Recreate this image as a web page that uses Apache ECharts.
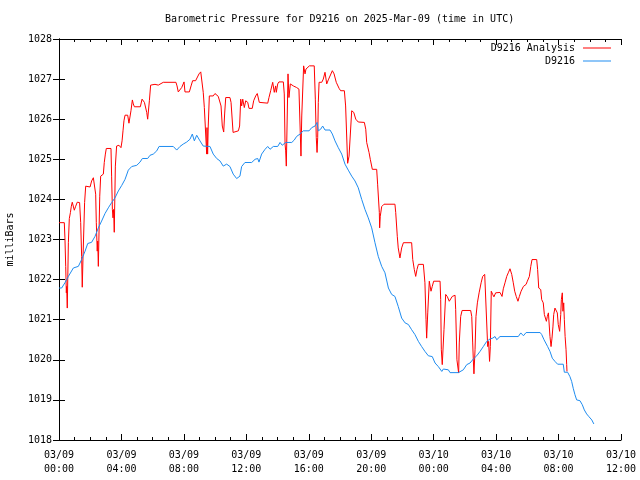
<!DOCTYPE html>
<html>
<head>
<meta charset="utf-8">
<script src="https://cdn.jsdelivr.net/npm/echarts@6/dist/echarts.min.js"></script>
<style>html,body{margin:0;padding:0;background:#fff}#c{width:640px;height:480px}</style>
</head>
<body>
<div id="c"></div>
<script>
// hours since 2025-03-09 00:00 UTC
var analysisHours = [0,0.34,0.38,0.43,0.47,0.49,0.53,0.6,0.66,0.73,0.79,0.85,0.98,1.07,1.17,1.32,1.39,1.45,1.49,1.54,1.64,1.71,1.99,2.09,2.2,2.31,2.35,2.39,2.45,2.48,2.52,2.61,2.67,2.84,2.9,2.97,3.03,3.33,3.37,3.42,3.46,3.5,3.54,3.61,3.65,3.69,3.84,3.97,4.04,4.1,4.16,4.23,4.4,4.48,4.61,4.7,4.76,4.83,5.21,5.32,5.47,5.62,5.68,5.79,5.87,6.15,6.36,6.68,7.49,7.56,7.64,7.75,7.86,8.01,8.07,8.35,8.46,8.56,8.75,8.82,8.97,9.08,9.14,9.24,9.31,9.37,9.46,9.48,9.52,9.56,9.63,9.88,9.99,10.2,10.31,10.38,10.46,10.55,10.61,10.68,10.95,11.02,11.15,11.23,11.49,11.57,11.64,11.7,11.77,11.87,11.96,12.09,12.17,12.38,12.47,12.6,12.7,12.83,13.37,13.45,13.56,13.69,13.79,13.88,13.92,14.01,14.09,14.37,14.43,14.48,14.52,14.56,14.67,14.73,14.82,15.01,15.22,15.37,15.5,15.55,15.67,15.76,15.82,16.04,16.35,16.42,16.48,16.53,16.57,16.61,16.66,16.83,16.93,17.04,17.15,17.25,17.36,17.51,17.62,17.76,17.94,18.04,18.28,18.36,18.49,18.58,18.75,18.88,19.01,19.17,19.56,19.65,19.71,19.86,19.94,20.07,20.35,20.41,20.52,20.54,20.58,20.67,20.82,21.52,21.57,21.67,21.73,21.84,21.95,22.06,22.59,22.66,22.76,22.85,22.93,23.02,23.34,23.44,23.51,23.55,23.62,23.72,23.83,23.91,24.0,24.41,24.45,24.49,24.55,24.66,24.77,24.87,25.0,25.19,25.37,25.41,25.49,25.56,25.6,25.64,25.73,25.82,26.37,26.44,26.5,26.54,26.58,26.65,26.71,26.8,26.91,27.04,27.14,27.27,27.33,27.46,27.52,27.58,27.63,27.69,27.78,27.86,27.97,28.07,28.25,28.38,28.46,28.57,28.68,28.78,28.89,29.0,29.1,29.19,29.29,29.4,29.49,29.6,29.75,29.92,30.0,30.13,30.22,30.3,30.6,30.66,30.73,30.86,30.92,31.02,31.09,31.22,31.28,31.35,31.39,31.45,31.52,31.58,31.64,31.69,31.77,31.86,31.92,31.98,32.07,32.14,32.18,32.24,32.28,32.33,32.37,32.42,32.48,32.52,32.54];
var analysisValues = [1023.42,1023.42,1023.04,1022.33,1021.67,1021.83,1021.29,1022.92,1023.52,1023.67,1023.83,1023.93,1023.73,1023.83,1023.93,1023.92,1023.42,1022.58,1021.81,1022.58,1023.92,1024.33,1024.31,1024.46,1024.54,1024.5,1024.13,1023.42,1022.71,1022.96,1022.33,1024.08,1024.58,1024.63,1024.92,1025.13,1025.27,1025.27,1024.58,1023.75,1023.54,1023.75,1023.18,1024.83,1024.79,1025.33,1025.35,1025.29,1025.46,1025.71,1025.96,1026.1,1026.1,1025.9,1026.21,1026.48,1026.38,1026.31,1026.31,1026.5,1026.42,1026.17,1026,1026.46,1026.85,1026.87,1026.85,1026.92,1026.92,1026.83,1026.68,1026.68,1026.79,1026.93,1026.68,1026.68,1026.83,1026.96,1026.96,1026.93,1027.13,1027.18,1027.15,1026.67,1026.29,1025.83,1025.13,1025.79,1025.13,1025.83,1026.58,1026.58,1026.64,1026.57,1026.57,1026.33,1025.83,1025.68,1026.13,1026.54,1026.54,1026.42,1025.67,1025.71,1025.71,1025.83,1026.5,1026.33,1026.5,1026.29,1026.46,1026.42,1026.27,1026.27,1026.46,1026.58,1026.64,1026.42,1026.4,1026.54,1026.71,1026.92,1026.67,1026.83,1026.67,1026.88,1026.93,1026.93,1026.63,1025.38,1025.21,1024.83,1027.13,1026.54,1026.88,1026.83,1026.79,1026.75,1025.08,1026.08,1027.33,1027.13,1027.25,1027.33,1027.33,1026.5,1025.54,1025.17,1025.54,1026.42,1026.92,1026.92,1027,1027.17,1026.88,1026.98,1027,1027.21,1027.13,1026.92,1026.77,1026.71,1026.71,1026.33,1024.9,1025.08,1026.21,1026.17,1026,1025.93,1025.92,1025.75,1025.42,1025.17,1025,1024.75,1024.75,1024.38,1023.67,1023.29,1023.58,1023.82,1023.88,1023.88,1023.67,1023.08,1022.79,1022.54,1022.79,1022.92,1022.92,1022.5,1022.25,1022.08,1022.25,1022.38,1022.38,1021.92,1021,1020.54,1021.17,1021.96,1021.71,1021.83,1021.96,1021.96,1021.5,1020.25,1019.88,1020.75,1021.63,1021.58,1021.46,1021.58,1021.61,1021.25,1020,1019.96,1019.67,1020.42,1021.08,1021.23,1021.23,1021.08,1020.42,1020,1019.65,1020.25,1021.08,1021.42,1021.67,1021.92,1022.08,1022.13,1022.13,1020.33,1020.46,1019.96,1020.33,1021.71,1021.63,1021.57,1021.67,1021.71,1021.68,1021.58,1021.77,1021.92,1022.08,1022.17,1022.27,1022.13,1021.92,1021.71,1021.58,1021.46,1021.58,1021.71,1021.83,1021.88,1021.96,1022.08,1022.33,1022.5,1022.5,1022.25,1021.79,1021.75,1021.5,1021.42,1021.13,1020.96,1021.08,1021.17,1021.21,1020.58,1020.33,1020.54,1020.82,1021.13,1021.29,1021.27,1021.17,1020.88,1020.71,1021.13,1021.5,1021.67,1021.21,1021.42,1021,1020.58,1020.25,1019.88,1019.71];

var stationHours = [0,0.17,0.38,0.6,0.92,1.24,1.45,1.67,1.84,2.09,2.31,2.52,2.73,2.95,3.16,3.37,3.59,3.8,4.02,4.23,4.44,4.66,4.98,5.19,5.34,5.68,5.83,6.04,6.26,6.41,7.32,7.54,7.75,7.96,8.18,8.39,8.54,8.67,8.82,9.03,9.24,9.67,9.88,10.1,10.31,10.52,10.74,10.95,11.16,11.38,11.59,11.7,11.91,12.34,12.56,12.73,12.81,12.98,13.2,13.37,13.52,13.73,14.01,14.16,14.3,14.52,14.91,15.07,15.22,15.44,15.65,16.02,16.19,16.4,16.53,16.61,16.76,16.89,17.04,17.36,17.51,17.68,17.89,18.11,18.32,18.53,18.75,18.96,19.17,19.39,19.6,19.81,20.03,20.24,20.45,20.67,20.88,21.1,21.31,21.52,21.73,21.95,22.17,22.38,22.59,22.8,23.02,23.23,23.44,23.66,23.91,24.09,24.3,24.52,24.62,24.73,24.94,25.05,25.58,25.9,26.12,26.33,26.54,26.76,26.97,27.18,27.4,27.61,27.78,27.93,28.04,28.25,29.42,29.58,29.75,29.92,30.82,30.92,31.07,31.13,31.3,31.45,31.6,31.77,31.94,32.3,32.37,32.58,32.73,32.84,32.94,33.05,33.16,33.37,33.52,33.65,33.8,33.95,34.13,34.26];
var stationValues = [1021.79,1021.79,1021.92,1022.08,1022.29,1022.33,1022.5,1022.71,1022.9,1022.93,1023.08,1023.29,1023.46,1023.65,1023.79,1023.92,1024.04,1024.21,1024.35,1024.5,1024.73,1024.82,1024.85,1024.93,1025.02,1025.02,1025.1,1025.13,1025.21,1025.32,1025.32,1025.23,1025.32,1025.38,1025.43,1025.5,1025.63,1025.46,1025.6,1025.46,1025.33,1025.32,1025.13,1025.02,1024.96,1024.83,1024.88,1024.82,1024.63,1024.52,1024.58,1024.82,1024.92,1024.92,1025,1025.02,1024.93,1025.13,1025.25,1025.32,1025.25,1025.32,1025.32,1025.42,1025.35,1025.42,1025.42,1025.48,1025.57,1025.63,1025.71,1025.71,1025.79,1025.83,1025.92,1025.71,1025.75,1025.83,1025.73,1025.73,1025.63,1025.46,1025.29,1025.13,1024.88,1024.73,1024.58,1024.46,1024.29,1024,1023.75,1023.54,1023.29,1022.92,1022.58,1022.33,1022.17,1021.79,1021.63,1021.58,1021.33,1021.04,1020.92,1020.88,1020.75,1020.63,1020.46,1020.33,1020.21,1020.1,1020.08,1019.92,1019.83,1019.71,1019.77,1019.81,1019.75,1019.68,1019.68,1019.75,1019.88,1019.92,1020.02,1020.1,1020.21,1020.33,1020.46,1020.52,1020.54,1020.58,1020.5,1020.58,1020.58,1020.67,1020.6,1020.68,1020.68,1020.63,1020.5,1020.46,1020.33,1020.21,1020.04,1019.96,1019.89,1019.89,1019.69,1019.69,1019.58,1019.46,1019.29,1019.13,1019,1018.98,1018.88,1018.75,1018.65,1018.58,1018.5,1018.4];

var dayLabels = ['03/09', '03/10'];
var titleText = 'Barometric Pressure for D9216 on 2025-Mar-09 (time in UTC)';
var yName = 'milliBars';
var seriesNames = ['D9216 Analysis', 'D9216'];

function zip(a, b) { return a.map(function (v, i) { return [v, b[i]]; }); }
var FONT = 'DejaVu Sans Mono';
function pad(n) { return (n < 10 ? '0' : '') + n; }
function xFmt(v) {
  var d = Math.floor(v / 24);
  var h = v - d * 24;
  return dayLabels[Math.min(d, 1)] + '\n' + pad(h) + ':00';
}
function yFmt(v) { return String(Math.round(v)); }
var axisLineStyle = { show: true, lineStyle: { color: '#000', width: 1 } };
function xAxisDef(pos, showLabel) {
  return {
    type: 'value', position: pos, min: 0, max: 36, interval: 4,
    axisLine: axisLineStyle,
    axisTick: { show: true, inside: true, length: 6, lineStyle: { color: '#000' } },
    minorTick: { show: true, splitNumber: 4, length: 3, lineStyle: { color: '#000' } },
    splitLine: { show: false }, minorSplitLine: { show: false },
    axisLabel: { show: showLabel, formatter: xFmt, fontFamily: FONT, fontSize: 10, color: '#000', margin: 8, lineHeight: 14 }
  };
}
function yAxisDef(pos, showLabel) {
  return {
    type: 'value', position: pos, min: 1018, max: 1028, interval: 1,
    name: showLabel ? yName : '', nameLocation: 'middle', nameRotate: 90, nameGap: 44,
    nameTextStyle: { fontFamily: FONT, fontSize: 10, color: '#000' },
    axisLine: axisLineStyle,
    axisTick: { show: true, inside: true, length: 6, lineStyle: { color: '#000' } },
    splitLine: { show: false },
    axisLabel: { show: showLabel, formatter: yFmt, fontFamily: FONT, fontSize: 10, color: '#000', margin: 7 }
  };
}
var legendCommon = {
  orient: 'horizontal', align: 'right', right: 29, padding: 0, icon: 'rect',
  itemWidth: 28, itemHeight: 1,
  textStyle: { fontFamily: FONT, fontSize: 10, color: '#000', padding: [0, 3, 0, 0] }
};
var chart = echarts.init(document.getElementById('c'), null, { renderer: 'canvas' });
chart.setOption({
  animation: false,
  backgroundColor: '#fff',
  title: { text: titleText, left: 165, top: 14, padding: 0,
    textStyle: { fontFamily: FONT, fontSize: 10, fontWeight: 'normal', color: '#000' } },
  legend: [
    Object.assign({}, legendCommon, { data: [seriesNames[0]], top: 43 }),
    Object.assign({}, legendCommon, { data: [seriesNames[1]], top: 56 })
  ],
  grid: { left: 59, right: 19, top: 39, bottom: 40, containLabel: false, outerBoundsMode: 'none' },
  xAxis: [xAxisDef('bottom', true), xAxisDef('top', false)],
  yAxis: [yAxisDef('left', true), yAxisDef('right', false)],
  series: [
    { type: 'line', name: seriesNames[0], data: zip(analysisHours, analysisValues), xAxisIndex: 0, yAxisIndex: 0,
      symbol: 'none', showSymbol: false, lineStyle: { color: '#ff0000', width: 1 }, itemStyle: { color: '#ff0000' } },
    { type: 'line', name: seriesNames[1], data: zip(stationHours, stationValues), xAxisIndex: 0, yAxisIndex: 0,
      symbol: 'none', showSymbol: false, lineStyle: { color: '#1e8cf0', width: 1 }, itemStyle: { color: '#1e8cf0' } }
  ]
});
</script>
</body>
</html>
